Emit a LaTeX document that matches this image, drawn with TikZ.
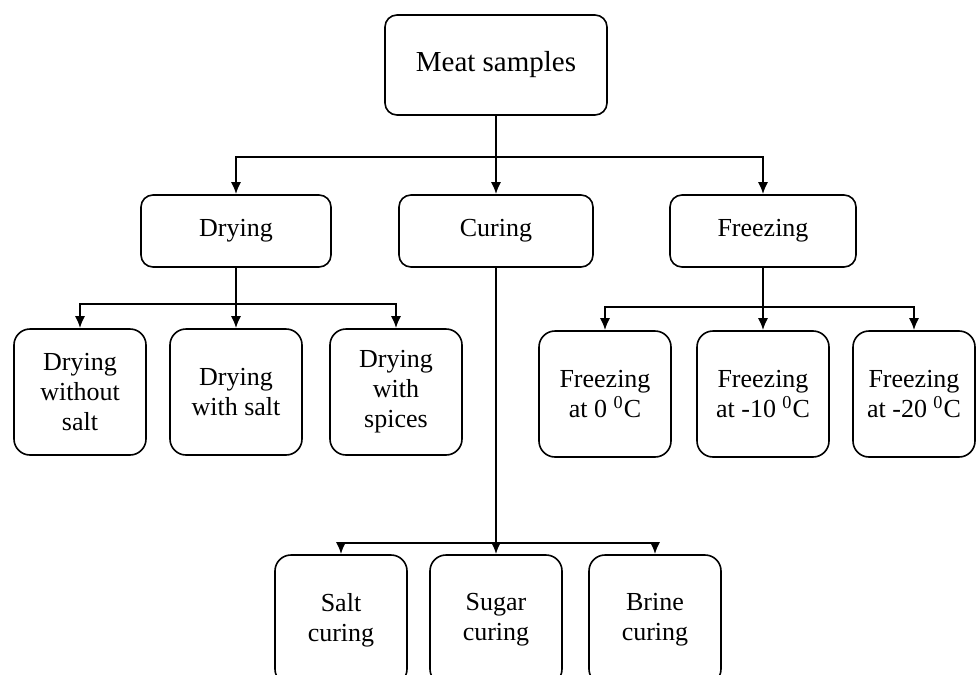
\documentclass[tikz,border=0pt]{standalone}
\usepackage{fontspec}
\setmainfont{Liberation Serif}
\usetikzlibrary{arrows.meta}

\begin{document}
\begin{tikzpicture}[x=0.5pt,y=-0.5pt,
    box/.style={draw,rounded corners=6pt,line width=0.8pt,align=center,
        font=\fontsize{13}{15}\selectfont,inner sep=2pt},
    leaf/.style={box,rounded corners=8pt,minimum width=66pt,minimum height=63pt},
    arr/.style={line width=0.9pt,-{Latex[length=6pt,width=5pt]}},
    ln/.style={line width=0.9pt}]

    \useasboundingbox (0,0) rectangle (976,675);
    \clip (0,0) rectangle (976,675);

    % Radice
    \node[box,minimum width=111pt,minimum height=50pt,font=\fontsize{14.5}{16}\selectfont] (meat) at (496,65) {Meat samples};

    % Trattamenti
    \node[box,minimum width=95pt,minimum height=36pt] (dry) at (236,231) {Drying};
    \node[box,minimum width=97pt,minimum height=36pt] (cure) at (496,231) {Curing};
    \node[box,minimum width=93pt,minimum height=36pt] (freeze) at (763,231) {Freezing};

    % Essiccazione
    \node[leaf] (dnosalt) at (80,392) {Drying\\without\\salt};
    \node[leaf] (dsalt) at (236,392) {Drying\\with salt};
    \node[leaf] (dspice) at (396,392) {Drying\\with\\spices};

    % Congelamento
    \node[leaf] (fzero) at (605,394) {Freezing\\at 0 \textsuperscript{0}C};
    \node[leaf] (ften) at (763,394) {Freezing\\at -10 \textsuperscript{0}C};
    \node[leaf,minimum width=61pt] (ftwenty) at (914,394) {Freezing\\at -20 \textsuperscript{0}C};

    % Salagione
    \node[leaf,minimum height=65pt] (csalt) at (341,620) {Salt\\curing};
    \node[leaf,minimum height=65pt] (csugar) at (496,620) {Sugar\\curing};
    \node[leaf,minimum height=65pt] (cbrine) at (655,620) {Brine\\curing};

    % Collegamenti
    \coordinate (jroot) at (496,157);
    \coordinate (jdry) at (236,304);
    \coordinate (jfreeze) at (763,307);
    \coordinate (jcure) at (496,543);

    \draw[ln] (meat.south) -- (jroot);
    \draw[arr] (jroot) -| (dry.north);
    \draw[arr] (jroot) -| (freeze.north);
    \draw[arr] (jroot) -- (cure.north);

    \draw[ln] (dry.south) -- (jdry);
    \draw[arr] (jdry) -| (dnosalt.north);
    \draw[arr] (jdry) -| (dspice.north);
    \draw[arr] (jdry) -- (dsalt.north);

    \draw[ln] (freeze.south) -- (jfreeze);
    \draw[arr] (jfreeze) -| (fzero.north);
    \draw[arr] (jfreeze) -| (ftwenty.north);
    \draw[arr] (jfreeze) -- (ften.north);

    \draw[ln] (cure.south) -- (jcure);
    \draw[arr] (jcure) -| (csalt.north);
    \draw[arr] (jcure) -| (cbrine.north);
    \draw[arr] (jcure) -- (csugar.north);

\end{tikzpicture}
\end{document}
